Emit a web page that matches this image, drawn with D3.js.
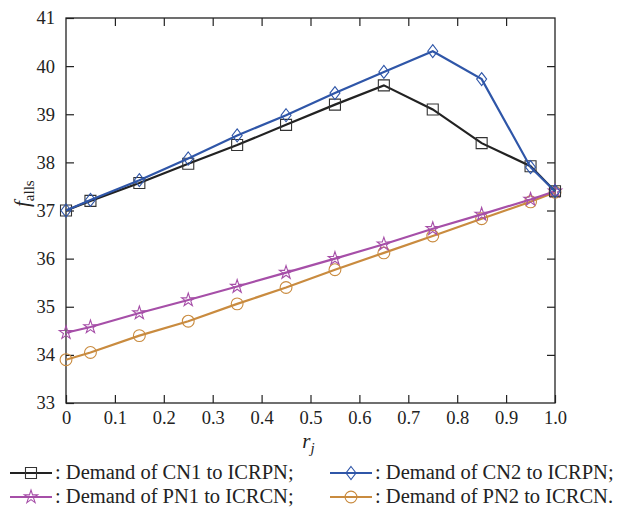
<!DOCTYPE html>
<html>
<head>
<meta charset="utf-8">
<script src="https://cdn.jsdelivr.net/npm/d3@7"></script>
<style>
  body { margin: 0; background: #fff; }
  svg { display: block; }
  text { font-family: "Liberation Serif", "DejaVu Serif", serif; fill: #222; }
</style>
</head>
<body>
<div id="chart"></div>
<script>
// data
const rValues = [0, 0.05, 0.15, 0.25, 0.35, 0.45, 0.55, 0.65, 0.75, 0.85, 0.95, 1.0];
const cn1 = [37.0, 37.2, 37.57, 37.97, 38.36, 38.78, 39.2, 39.6, 39.1, 38.4, 37.92, 37.4];
const cn2 = [37.0, 37.22, 37.63, 38.08, 38.56, 38.98, 39.44, 39.88, 40.31, 39.73, 37.9, 37.4];
const pn1 = [34.46, 34.58, 34.87, 35.14, 35.42, 35.71, 36.0, 36.3, 36.62, 36.92, 37.23, 37.4];
const pn2 = [33.9, 34.05, 34.4, 34.7, 35.06, 35.4, 35.77, 36.12, 36.47, 36.83, 37.18, 37.38];
const xTicks = [0, 0.1, 0.2, 0.3, 0.4, 0.5, 0.6, 0.7, 0.8, 0.9, 1.0];
const yTicks = [33, 34, 35, 36, 37, 38, 39, 40, 41];
const legendLabels = [
    ": Demand of CN1 to ICRPN;",
    ": Demand of CN2 to ICRPN;",
    ": Demand of PN1 to ICRCN;",
    ": Demand of PN2 to ICRCN."
];

const width = 622, height = 508;
const plotLeft = 66, plotRight = 555, plotTop = 18, plotBottom = 403;

const svg = d3.select("#chart").append("svg")
    .attr("width", width)
    .attr("height", height);

const x = d3.scaleLinear().domain([0, 1]).range([plotLeft, plotRight]);
const y = d3.scaleLinear().domain([33, 41]).range([plotBottom, plotTop]);

// 刻度 (ticks point inwards, on all four sides)
const tickLen = 8;
svg.append("g")
    .attr("transform", `translate(0,${plotBottom})`)
    .call(d3.axisBottom(x).tickValues(xTicks).tickSize(-tickLen).tickPadding(8)
        .tickFormat(d => d === 0 ? "0" : d3.format(".1f")(d)))
    .call(g => g.select(".domain").remove());
svg.append("g")
    .attr("transform", `translate(0,${plotTop})`)
    .call(d3.axisTop(x).tickValues(xTicks.slice(1, -1)).tickSize(-tickLen).tickFormat(""))
    .call(g => g.select(".domain").remove());
svg.append("g")
    .attr("transform", `translate(${plotLeft},0)`)
    .call(d3.axisLeft(y).tickValues(yTicks).tickSize(-tickLen).tickPadding(11))
    .call(g => g.select(".domain").remove());
svg.append("g")
    .attr("transform", `translate(${plotRight},0)`)
    .call(d3.axisRight(y).tickValues(yTicks.slice(1, -1)).tickSize(-tickLen).tickFormat(""))
    .call(g => g.select(".domain").remove());

svg.selectAll(".tick line").attr("stroke", "#222").attr("stroke-width", 1.2);
svg.selectAll(".tick text")
    .style("font-family", "'Liberation Serif', serif")
    .style("font-size", "18.5px")
    .attr("fill", "#222");

// frame
svg.append("rect")
    .attr("x", plotLeft).attr("y", plotTop)
    .attr("width", plotRight - plotLeft).attr("height", plotBottom - plotTop)
    .attr("fill", "none").attr("stroke", "#222").attr("stroke-width", 1.3);

// axis titles
svg.append("text")
    .attr("x", x(0.5) - 2).attr("y", 448)
    .attr("text-anchor", "middle")
    .style("font-size", "21px").style("font-style", "italic")
    .text("r")
    .append("tspan").attr("dy", 5).style("font-size", "15px").text("j");

svg.append("text")
    .attr("transform", `translate(29,${y(37.35)}) rotate(-90)`)
    .attr("text-anchor", "middle")
    .style("font-size", "21px")
    .call(t => {
        t.append("tspan").style("font-style", "italic").text("f");
        t.append("tspan").attr("dy", 5).style("font-size", "15px").text("alls");
    });

// marker shapes
const markers = {
    square: "M-5.5,-5.5H5.5V5.5H-5.5Z",
    diamond: "M0,-6.5L5,0L0,6.5L-5,0Z",
    circle: d3.symbol(d3.symbolCircle, 110)(),
    star: d3.symbol(d3.symbolStar, 55)()
};

const series = [
    { name: "cn1", values: cn1, color: "#222222", marker: "square" },
    { name: "cn2", values: cn2, color: "#2f56a8", marker: "diamond" },
    { name: "pn1", values: pn1, color: "#a64fa8", marker: "star" },
    { name: "pn2", values: pn2, color: "#c98b3f", marker: "circle" }
];

const line = d3.line()
    .x((d, i) => x(rValues[i]))
    .y(d => y(d));

// draw bottom series first so blue/black sit on top
const drawOrder = [series[3], series[2], series[0], series[1]];
drawOrder.forEach(s => {
    svg.append("path")
        .datum(s.values)
        .attr("fill", "none")
        .attr("stroke", s.color)
        .attr("stroke-width", 2.2)
        .attr("d", line);
    svg.append("g")
        .selectAll("path")
        .data(s.values)
        .join("path")
        .attr("transform", (d, i) => `translate(${x(rValues[i])},${y(d)})`)
        .attr("d", markers[s.marker])
        .attr("fill", "none")
        .attr("stroke", s.color === "#222222" ? "#333" : s.color)
        .attr("stroke-width", 1.1);
});

// legend
const legendPos = [
    { x: 10, y: 473 },
    { x: 330, y: 473 },
    { x: 10, y: 497 },
    { x: 330, y: 497 }
];
series.forEach((s, i) => {
    const p = legendPos[i];
    const g = svg.append("g").attr("transform", `translate(${p.x},${p.y})`);
    g.append("line")
        .attr("x1", 0).attr("x2", 42)
        .attr("stroke", s.color).attr("stroke-width", 2.2);
    g.append("path")
        .attr("transform", "translate(21,0)")
        .attr("d", markers[s.marker])
        .attr("fill", "none")
        .attr("stroke", s.color === "#222222" ? "#333" : s.color)
        .attr("stroke-width", 1.1);
    g.append("text")
        .attr("x", 45).attr("y", 6)
        .style("font-size", "20.5px")
        .text(legendLabels[i]);
});
</script>
</body>
</html>
